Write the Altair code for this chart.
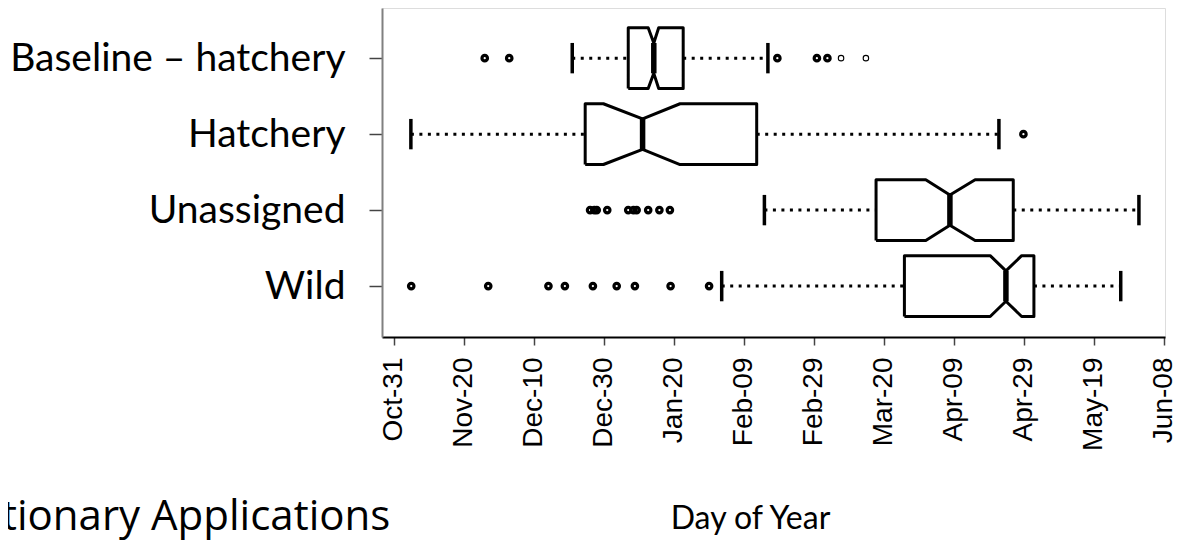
import json
import altair as alt
import pandas as pd

# ---- data ----
categories = ["Baseline – hatchery", "Hatchery", "Unassigned", "Wild"]
whisker_lo = [51.0, 4.9, 105.9, 93.7]
q1 = [67.0, 54.7, 137.8, 145.9]
notch_lo = [72.7, 59.9, 152.0, 170.4]
median = [74.3, 71.1, 158.9, 174.9]
notch_hi = [75.7, 81.8, 166.1, 179.4]
q3 = [82.7, 103.7, 177.0, 182.9]
whisker_hi = [106.9, 172.9, 212.9, 207.7]

out_baseline = [26.0, 33.0, 109.6, 120.9, 123.9, 127.8, 134.9]
out_baseline_n = [3, 3, 3, 3, 3, 1, 1]
out_hatchery = [179.9]
out_hatchery_n = [3]
out_unassigned = [56.1, 57.3, 58.0, 61.0, 67.0, 68.5, 69.4, 72.7, 75.9, 78.9]
out_unassigned_n = [3, 3, 3, 3, 3, 3, 3, 3, 3, 3]
out_wild = [5.0, 27.0, 44.2, 48.9, 56.9, 63.7, 68.9, 79.1, 90.1]
out_wild_n = [3, 3, 3, 3, 3, 3, 3, 3, 3]

tick_values = [0, 20, 40, 60, 80, 100, 120, 140, 160, 180, 200, 220]
tick_labels = ["Oct-31", "Nov-20", "Dec-10", "Dec-30", "Jan-20", "Feb-09",
               "Feb-29", "Mar-20", "Apr-09", "Apr-29", "May-19", "Jun-08"]
x_title = "Day of Year"
side_text = "tionary Applications"

# ---- build tables ----
n_cat = len(categories)
ypos = [n_cat - i for i in range(n_cat)]
H = 0.4   # box half height (category units)
HN = 0.2  # notch half height

poly = []
for i in range(n_cat):
    yc = ypos[i]
    pts = [(q1[i], -H), (notch_lo[i], -H), (median[i], -HN), (notch_hi[i], -H),
           (q3[i], -H), (q3[i], H), (notch_hi[i], H), (median[i], HN),
           (notch_lo[i], H), (q1[i], H), (q1[i], -H)]
    for k, (xv, dy) in enumerate(pts):
        poly.append({"cat": categories[i], "k": k, "x": xv, "y": yc + dy})
poly_df = pd.DataFrame(poly)

stats = pd.DataFrame({
    "cat": categories, "y": ypos,
    "ylo": [v - HN for v in ypos], "yhi": [v + HN for v in ypos],
    "wlo": whisker_lo, "q1": q1, "med": median, "q3": q3, "whi": whisker_hi,
})

outs = []
for i, (vals, ns) in enumerate([(out_baseline, out_baseline_n), (out_hatchery, out_hatchery_n),
                                (out_unassigned, out_unassigned_n), (out_wild, out_wild_n)]):
    for v, n in zip(vals, ns):
        outs.append({"cat": categories[i], "y": ypos[i], "x": v, "n": n})
out_df = pd.DataFrame(outs)

W, Hpx = 783, 329
xscale = alt.Scale(domain=[-3.35, 220.35], nice=False, zero=False)
yscale = alt.Scale(domain=[0.33, 4.66], nice=False, zero=False)

ylab_expr = json.dumps(categories[::-1]) + "[round(datum.value) - 1]"
xlab_expr = json.dumps(tick_labels) + "[round(datum.value / 20)]"

x_axis = alt.Axis(values=tick_values, labelExpr=xlab_expr, labelAngle=270,
                  labelFont="Liberation Sans", labelFontSize=28, labelColor="black",
                  labelPadding=12, tickSize=8, tickColor="#444", tickWidth=1.5,
                  domainColor="black", domainWidth=2, grid=False, labelLimit=0,
                  labelOverlap=False, labelFlush=False,
                  title=x_title, titleFont="Lato", titleFontSize=32,
                  titleFontWeight="normal", titleColor="black",
                  titleX=368, titleY=191, titleBaseline="alphabetic", titleAnchor="middle")
y_axis = alt.Axis(values=[1, 2, 3, 4], labelExpr=ylab_expr, labelLimit=0,
                  labelFont="Lato", labelFontSize=39, labelColor="black",
                  labelPadding=24, tickSize=13, tickColor="#444", tickWidth=1.5,
                  domainColor="#808080", domainWidth=2, grid=False, title=None)

base_x = alt.X("x:Q", scale=xscale, axis=x_axis)

boxes = alt.Chart(poly_df).mark_line(color="black", strokeWidth=3, strokeJoin="round").encode(
    x=base_x,
    y=alt.Y("y:Q", scale=yscale, axis=y_axis),
    detail="cat:N",
    order=alt.Order("k:Q"),
)

wh_lo = alt.Chart(stats).mark_rule(color="black", strokeWidth=3, strokeDash=[3, 5.5]).encode(
    x=alt.X("wlo:Q", scale=xscale), x2="q1:Q", y=alt.Y("y:Q", scale=yscale))
wh_hi = alt.Chart(stats).mark_rule(color="black", strokeWidth=3, strokeDash=[3, 5.5]).encode(
    x=alt.X("q3:Q", scale=xscale), x2="whi:Q", y=alt.Y("y:Q", scale=yscale))
cap_lo = alt.Chart(stats).mark_rule(color="black", strokeWidth=3.5).encode(
    x=alt.X("wlo:Q", scale=xscale), y=alt.Y("ylo:Q", scale=yscale), y2="yhi:Q")
cap_hi = alt.Chart(stats).mark_rule(color="black", strokeWidth=3.5).encode(
    x=alt.X("whi:Q", scale=xscale), y=alt.Y("ylo:Q", scale=yscale), y2="yhi:Q")
med = alt.Chart(stats).mark_rule(color="black", strokeWidth=5.5).encode(
    x=alt.X("med:Q", scale=xscale), y=alt.Y("ylo:Q", scale=yscale), y2="yhi:Q")

pts = alt.Chart(out_df).mark_point(shape="circle", filled=False, color="black", size=30, opacity=1).encode(
    x=alt.X("x:Q", scale=xscale), y=alt.Y("y:Q", scale=yscale),
    strokeWidth=alt.StrokeWidth("n:Q", scale=alt.Scale(domain=[1, 3], range=[1.1, 3.2]), legend=None),
)

side = alt.Chart(pd.DataFrame({"t": [side_text]})).mark_text(
    font="Open Sans", fontSize=42, align="left", baseline="alphabetic", color="black"
).encode(x=alt.value(-380), y=alt.value(522), text="t:N")

chart = alt.layer(wh_lo, wh_hi, cap_lo, cap_hi, boxes, med, pts, side).properties(
    width=W, height=Hpx,
    autosize=alt.AutoSizeParams(type="none"),
    padding={"left": 374, "top": 0, "right": 10, "bottom": 203},
).configure_view(stroke=None).configure(background="white")

chart.save("out.html", embed_options={"renderer": "svg", "actions": False})
